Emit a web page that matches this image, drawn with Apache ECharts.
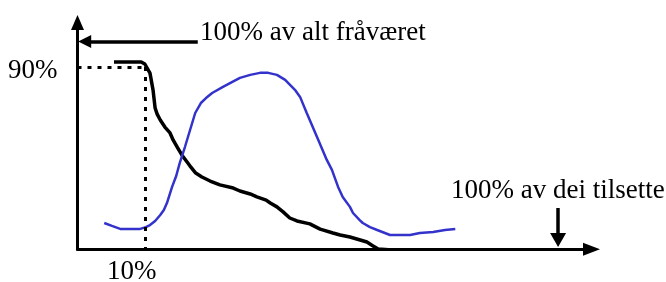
<!DOCTYPE html>
<html>
<head>
<meta charset="utf-8">
<title>Fråvær og tilsette</title>
<script src="https://cdn.jsdelivr.net/npm/echarts@6.0.0/dist/echarts.min.js"></script>
<style>
  html, body { margin: 0; padding: 0; background: #fff; }
  #chart { width: 666px; height: 282px; }
</style>
</head>
<body>
<div id="chart"></div>
<script>
// svart kurve: del av fråværet (x = del av dei tilsette, y = del av fråværet)
const absenceCurve = [
  [7.1, 82.6], [12.4, 82.6], [13.1, 81.7], [14.1, 77.7], [14.7, 70.2],
  [15.1, 62.3], [15.5, 59.6], [16.1, 57.0], [17.0, 53.9], [18.0, 51.3],
  [18.6, 48.2], [19.4, 45.1], [20.3, 41.6], [21.9, 36.7], [23.0, 33.6],
  [24.2, 31.9], [25.8, 30.1], [27.7, 28.4], [30.3, 27.0], [31.6, 25.7],
  [33.6, 24.4], [34.9, 23.1], [36.7, 21.7], [37.5, 20.4], [38.8, 18.7],
  [40.0, 16.5], [41.3, 13.8], [42.7, 12.5], [45.2, 11.2], [47.2, 8.9],
  [49.7, 7.2], [51.1, 6.3], [53.0, 5.4], [55.0, 4.1], [56.3, 3.2],
  [57.5, 1.5], [58.5, 0.1], [61.2, -0.3]
];

// blå kurve
const staffCurve = [
  [5.2, 11.6], [6.7, 10.3], [8.3, 9.0], [10.2, 9.0], [12.2, 9.0],
  [13.3, 9.8], [14.1, 10.7], [15.1, 12.5], [16.1, 15.1], [16.8, 17.3],
  [17.4, 20.4], [18.4, 27.5], [19.2, 32.3], [19.9, 38.1], [20.9, 45.1],
  [21.9, 52.6], [22.9, 60.1], [24.0, 64.5], [25.0, 66.7], [26.2, 68.9],
  [28.3, 71.6], [31.6, 75.6], [33.6, 76.9], [35.5, 77.8], [37.1, 77.8],
  [38.8, 76.9], [40.4, 74.7], [42.3, 70.3], [43.3, 67.2], [44.6, 60.1],
  [46.6, 49.5], [48.5, 39.4], [49.5, 35.0], [50.7, 27.5], [51.6, 23.1],
  [53.0, 18.7], [53.6, 16.0], [54.9, 12.9], [55.5, 11.6], [56.9, 9.8],
  [58.3, 8.5], [60.8, 6.3], [62.7, 6.3], [64.7, 6.3], [66.6, 7.2],
  [69.2, 7.6], [71.5, 8.5], [73.5, 8.9]
];

// hjelpelinjer (90 % / 10 %)
const guidePoint = [13.1, 80.4];

// piler
const allAbsenceArrow = [[23.4, 91.6], [1.4, 91.6]];
const allStaffArrow = [[93.5, 18.2], [93.5, 4.1]];

// tekstar
const labels = ["100% av alt fråværet", "100% av dei tilsette", "90%", "10%"];

const chart = echarts.init(document.getElementById("chart"));

const font = '27px "Liberation Serif", "Times New Roman", serif';

const hiddenAxisParts = {
  axisTick: { show: false },
  axisLabel: { show: false },
  splitLine: { show: false },
};

const options = {
  animation: false,
  grid: { left: 77.5, right: 74.5, top: 22.5, bottom: 32.7 },
  xAxis: {
    type: "value",
    min: 0,
    max: 100,
    axisLine: {
      show: true,
      onZero: false,
      symbol: ["none", "triangle"],
      symbolSize: [13, 17],
      lineStyle: { color: "#000", width: 3 },
    },
    ...hiddenAxisParts,
  },
  yAxis: {
    type: "value",
    min: 0,
    max: 100,
    axisLine: {
      show: true,
      onZero: false,
      symbol: ["none", "triangle"],
      symbolSize: [13, 15],
      lineStyle: { color: "#000", width: 3 },
    },
    ...hiddenAxisParts,
  },
  series: [
    {
      // piler og stipla linjer
      type: "line",
      data: [],
      markLine: {
        silent: true,
        symbol: ["none", "triangle"],
        label: { show: false },
        data: [
          [
            { coord: allAbsenceArrow[0], symbolSize: [13, 13] },
            { coord: allAbsenceArrow[1], symbolSize: [13, 13] },
          ],
          [
            { coord: allStaffArrow[0], symbolSize: [16, 14] },
            { coord: allStaffArrow[1], symbolSize: [16, 14] },
          ],
        ].map((pair) =>
          pair.map((p) => ({ ...p, lineStyle: { color: "#000", width: 3.5, type: "solid" } }))
        ).concat([
          [
            { coord: [0, guidePoint[1]], symbol: "none" },
            { coord: guidePoint, symbol: "none" },
          ],
          [
            { coord: guidePoint, symbol: "none" },
            { coord: [guidePoint[0], 0], symbol: "none" },
          ],
        ].map((pair) =>
          pair.map((p) => ({ ...p, lineStyle: { color: "#000", width: 3, type: [4, 6] } }))
        )),
      },
    },
    {
      name: "fråvær",
      type: "line",
      data: absenceCurve,
      showSymbol: false,
      lineStyle: { color: "#000", width: 3.5 },
      z: 3,
    },
    {
      name: "tilsette",
      type: "line",
      data: staffCurve,
      showSymbol: false,
      lineStyle: { color: "#3333cc", width: 2.5 },
      z: 4,
    },
  ],
  graphic: [
    { type: "text", x: 200, y: 33, style: { text: labels[0], font, fill: "#000", verticalAlign: "middle" } },
    { type: "text", x: 451, y: 190.5, style: { text: labels[1], font, fill: "#000", verticalAlign: "middle" } },
    { type: "text", x: 8, y: 71, style: { text: labels[2], font, fill: "#000", verticalAlign: "middle" } },
    { type: "text", x: 107, y: 271.5, style: { text: labels[3], font, fill: "#000", verticalAlign: "middle" } },
  ],
};

chart.setOption(options);
</script>
</body>
</html>
